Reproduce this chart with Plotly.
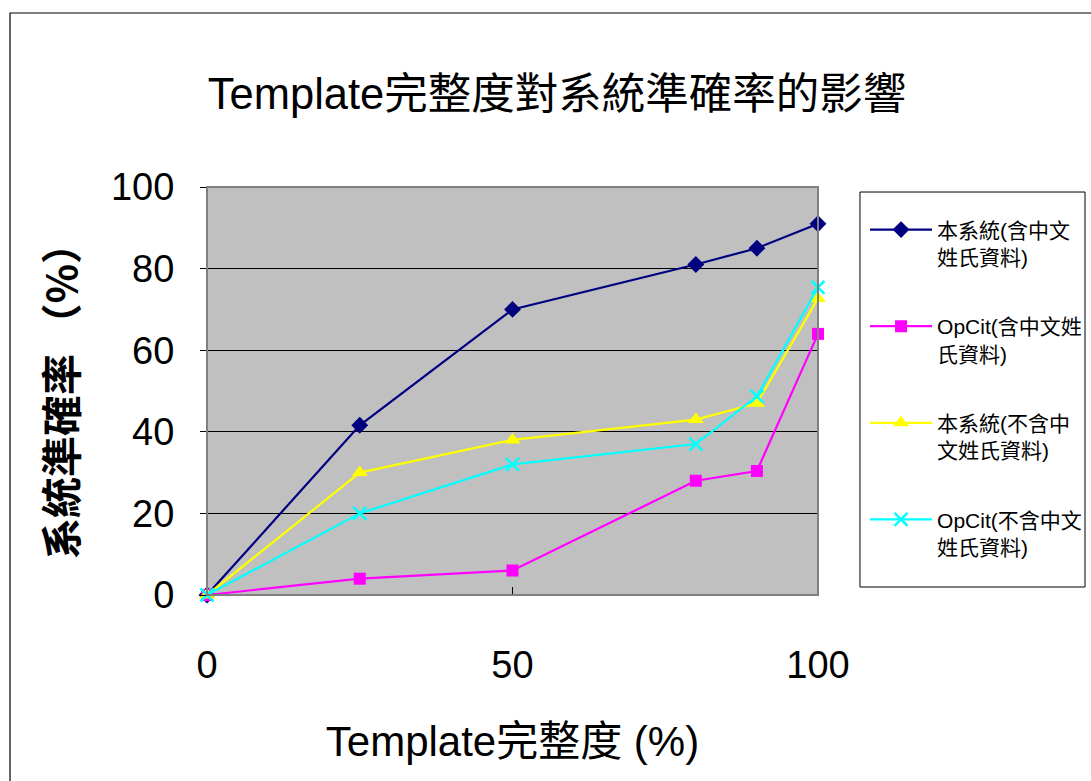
import plotly.graph_objects as go

# Template completeness (%) on the x axis
completeness = [0, 25, 50, 80, 90, 100]

# Accuracy (%) of each system
ours_with_cn = [0, 41.6, 70, 81, 85, 91]
opcit_with_cn = [0, 4, 6, 28, 30.4, 64]
ours_without_cn = [0, 30, 38, 43, 47, 72.7]
opcit_without_cn = [0, 20, 32, 37, 48.7, 75.4]

series_names = [
    "本系統(含中文<br>姓氏資料)",
    "OpCit(含中文姓<br>氏資料)",
    "本系統(不含中<br>文姓氏資料)",
    "OpCit(不含中文<br>姓氏資料)",
]

FONT = "Liberation Sans, Arial, Noto Sans CJK TC, sans-serif"
CJK = "Noto Sans CJK TC, Liberation Sans, sans-serif"

styles = [
    dict(color="#000080", symbol="diamond", size=13),
    dict(color="#FF00FF", symbol="square", size=12),
    dict(color="#FFFF00", symbol="triangle-up", size=14),
    dict(color="#00FFFF", symbol="x-thin", size=13),
]
values = [ours_with_cn, opcit_with_cn, ours_without_cn, opcit_without_cn]

fig = go.Figure()
for i, (name, ys, st) in enumerate(zip(series_names, values, styles)):
    marker = dict(symbol=st["symbol"], size=st["size"], color=st["color"])
    if st["symbol"] == "x-thin":
        marker["line"] = dict(color=st["color"], width=2.5)
    fig.add_trace(go.Scatter(
        x=completeness, y=ys, name=name, mode="lines+markers",
        line=dict(color=st["color"], width=2.2),
        marker=marker, cliponaxis=False, legendgroup=f"g{i}",
    ))

# plot-area frame, legend box and outer chart border
fig.add_shape(type="rect", xref="paper", yref="paper", x0=0, x1=1, y0=0, y1=1,
              line=dict(color="#808080", width=2), layer="above")
fig.add_shape(type="rect", xref="paper", yref="paper",
              x0=1.0687, x1=1.437, y0=0.0196, y1=0.9877,
              line=dict(color="black", width=1), fillcolor="white", layer="below")
fig.add_shape(type="rect", xref="paper", yref="paper",
              x0=-0.3224, x1=1.6, y0=-0.7, y1=1.4265,
              line=dict(color="#000000", width=1.2))

fig.update_layout(
    width=1091, height=781,
    margin=dict(l=207, r=273, t=187, b=186, autoexpand=False),
    paper_bgcolor="white", plot_bgcolor="#C0C0C0",
    font=dict(family=FONT, color="black"),
    title=dict(text="Template完整度對系統準確率的影響",
               x=0.5106, xanchor="center", xref="container",
               y=1 - 94 / 781, yanchor="middle", yref="container",
               font=dict(family=FONT, size=43.5, color="black")),
    legend=dict(x=1.077, xanchor="left", y=0.945, yanchor="top",
                bgcolor="rgba(0,0,0,0)", borderwidth=0,
                font=dict(family=FONT, size=21, color="black"),
                traceorder="grouped", tracegroupgap=39, valign="top",
                itemwidth=62),
    xaxis=dict(range=[0, 100], tickvals=[0, 50, 100], ticks="inside",
               ticklen=8, tickcolor="black", showline=True, linecolor="black",
               showgrid=False, zeroline=False, ticklabelstandoff=36,
               tickfont=dict(family=FONT, size=38),
               title=dict(text="Template完整度 (%)", standoff=42,
                          font=dict(family=FONT, size=42))),
    yaxis=dict(range=[0, 100], dtick=20, ticks="outside", ticklen=6,
               tickcolor="black", showline=True, linecolor="black",
               showgrid=True, gridcolor="black", gridwidth=1, zeroline=False,
               ticklabelstandoff=18, tickfont=dict(family=FONT, size=38),
               title=dict(text="<b>系統準確率 （%）</b>", standoff=20,
                          font=dict(family=CJK, size=41))),
)

fig.write_html("out.html")
